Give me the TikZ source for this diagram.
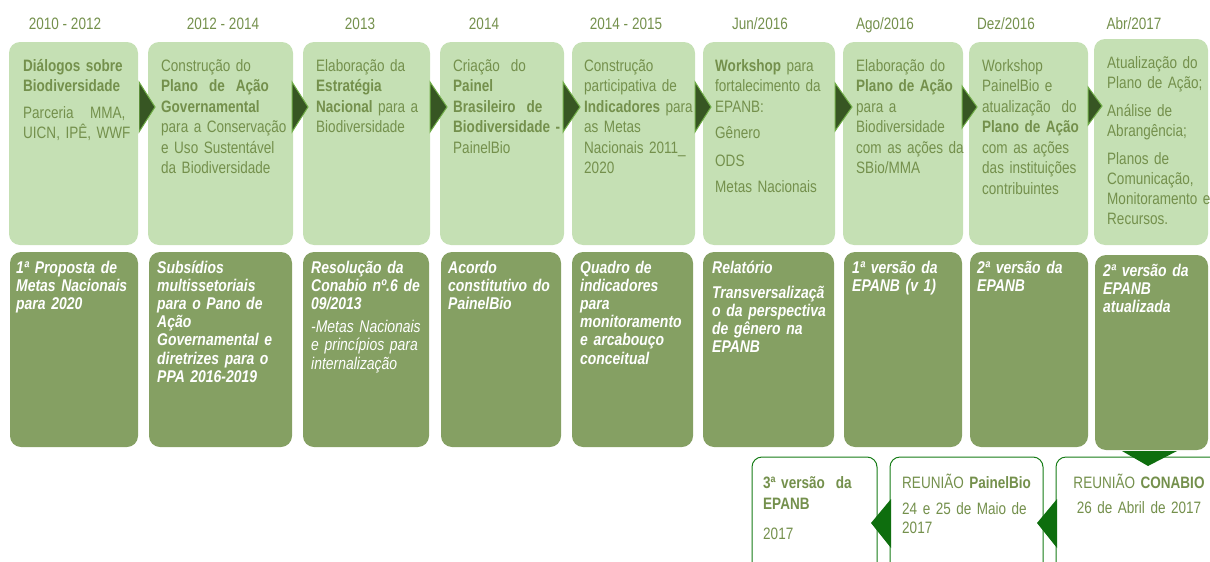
\documentclass[tikz,border=0pt]{standalone}
\usepackage{fontspec}
\setmainfont{Liberation Sans}[FakeStretch=0.82]
\definecolor{topfill}{HTML}{C5E0B4}
\definecolor{darkfill}{HTML}{85A063}
\definecolor{txtgreen}{HTML}{74904C}
\definecolor{arrdark}{HTML}{375623}
\definecolor{arredge}{HTML}{70AD47}
\definecolor{boxline}{HTML}{167C16}
\definecolor{arrbottom}{HTML}{0E6E0E}
\begin{document}
\begin{tikzpicture}[x=1pt,y=-1pt,
  topbox/.style={fill=topfill, rounded corners=11pt, inner sep=0pt, outer sep=0pt, anchor=north west, minimum height=203pt},
  darkbox/.style={fill=darkfill, rounded corners=11pt, inner sep=0pt, outer sep=0pt, anchor=north west, minimum height=195pt},
  outbox/.style={draw=boxline, line width=1pt, fill=white, rounded corners=10pt, inner sep=0pt, outer sep=0pt, anchor=north west, minimum height=115pt},
  yearlbl/.style={anchor=base, inner sep=0pt, text=txtgreen, font=\fontsize{16.5}{20}\selectfont},
  toptxt/.style={anchor=base west, inner sep=0pt, text width=140pt, align=left, text=txtgreen, font=\fontsize{16.5}{20.5}\selectfont},
  darktxt/.style={anchor=base west, inner sep=0pt, text width=140pt, align=left, text=white, font=\fontsize{17}{18.2}\selectfont\bfseries\itshape},
  bottxt/.style={anchor=base west, inner sep=0pt, text width=150pt, align=left, text=txtgreen, font=\fontsize{16.5}{20.5}\selectfont},
  chev/.style={fill=arrdark, draw=arredge, line width=1pt, line join=miter},
  chevb/.style={fill=arrbottom},
]
\useasboundingbox (0,0) rectangle (1210,562);
\clip (0,0) rectangle (1210,562);

% year labels
\node[yearlbl] (y1) at (65,29) {2010 - 2012};
\node[yearlbl] (y2) at (223,29) {2012 - 2014};
\node[yearlbl] (y3) at (360,29) {2013};
\node[yearlbl] (y4) at (484,29) {2014};
\node[yearlbl] (y5) at (626,29) {2014 - 2015};
\node[yearlbl] (y6) at (760,29) {Jun/2016};
\node[yearlbl] (y7) at (885,29) {Ago/2016};
\node[yearlbl] (y8) at (1006,29) {Dez/2016};
\node[yearlbl] (y9) at (1134,29) {Abr/2017};

% top boxes
\node[topbox, minimum width=129pt] (t1) at (9,42) {};
\node[topbox, minimum width=145pt] (t2) at (148,42) {};
\node[topbox, minimum width=127pt] (t3) at (303,42) {};
\node[topbox, minimum width=124pt] (t4) at (440,42) {};
\node[topbox, minimum width=123pt] (t5) at (572,42) {};
\node[topbox, minimum width=132pt] (t6) at (703,42) {};
\node[topbox, minimum width=120pt] (t7) at (843,42) {};
\node[topbox, minimum width=119pt] (t8) at (969,42) {};
\node[topbox, minimum width=114pt, minimum height=206pt] (t9) at (1094,39) {};

% dark boxes
\node[darkbox, minimum width=128pt] (d1) at (10,252) {};
\node[darkbox, minimum width=143pt] (d2) at (149,252) {};
\node[darkbox, minimum width=126pt] (d3) at (303,252) {};
\node[darkbox, minimum width=120pt] (d4) at (441,252) {};
\node[darkbox, minimum width=121pt] (d5) at (572,252) {};
\node[darkbox, minimum width=131pt] (d6) at (703,252) {};
\node[darkbox, minimum width=118pt] (d7) at (844,252) {};
\node[darkbox, minimum width=118pt] (d8) at (970,252) {};
\node[darkbox, minimum width=113pt] (d9) at (1095,255) {};

% bottom outlined boxes
\node[outbox, minimum width=125pt] (b1) at (752,457) {};
\node[outbox, minimum width=153pt] (b2) at (890,457) {};
\node[outbox, minimum width=166pt] (b3) at (1056,457) {};

% top chevrons
\fill[chev] (139,82) -- (155,107) -- (139,132) -- cycle;
\fill[chev] (292,82) -- (308,107) -- (292,132) -- cycle;
\fill[chev] (430,82) -- (447,107) -- (430,132) -- cycle;
\fill[chev] (563,82) -- (580,107) -- (563,132) -- cycle;
\fill[chev] (695,82) -- (711,107) -- (695,132) -- cycle;
\fill[chev] (835,83) -- (852,107) -- (835,131) -- cycle;
\fill[chev] (962,86) -- (977,107) -- (962,128) -- cycle;
\fill[chev] (1088,87) -- (1102,106) -- (1088,125) -- cycle;

% bottom triangles
\fill[chevb] (1122,451) -- (1177,451) -- (1148,466) -- cycle;
\fill[chevb] (891,499) -- (871,523) -- (891,548) -- cycle;
\fill[chevb] (1057,499) -- (1037,523) -- (1057,548) -- cycle;

% top texts
\node[toptxt] (tx1) at (23,71) {\textbf{Diálogos sobre}\\\textbf{Biodiversidade}\\[6pt]Parceria\ \ \ MMA,\\UICN, IPÊ, WWF};
\node[toptxt] (tx2) at (161,71) {Construção do\\\textbf{Plano\ \ de\ \ Ação}\\\textbf{Governamental}\\para a Conservação\\e Uso Sustentável\\da Biodiversidade};
\node[toptxt] (tx3) at (316,71) {Elaboração da\\\textbf{Estratégia}\\\textbf{Nacional} para a\\Biodiversidade};
\node[toptxt] (tx4) at (453,71) {Criação\ \ do\\\textbf{Painel}\\\textbf{Brasileiro\ \ de}\\\textbf{Biodiversidade -}\\PainelBio};
\node[toptxt] (tx5) at (584,71) {Construção\\participativa de\\\textbf{Indicadores} para\\as Metas\\Nacionais 2011\_\\2020};
\node[toptxt] (tx6) at (715,71) {\textbf{Workshop} para\\fortalecimento da\\EPANB:\\[6pt]Gênero\\[7pt]ODS\\[6pt]Metas Nacionais};
\node[toptxt] (tx7) at (856,71) {Elaboração do\\\textbf{Plano de Ação}\\para a\\Biodiversidade\\com as ações da\\SBio/MMA};
\node[toptxt] (tx8) at (982,71) {Workshop\\PainelBio e\\atualização\ \ do\\\textbf{Plano de Ação}\\com as ações\\das instituições\\contribuintes};
\node[toptxt, font=\fontsize{16.5}{20}\selectfont] (tx9) at (1107,68) {Atualização do\\Plano de Ação;\\[8pt]Análise de\\Abrangência;\\[8pt]Planos de\\Comunicação,\\Monitoramento e\\Recursos.};

% dark texts
\node[darktxt] (dx1) at (16,273) {1ª Proposta de\\Metas Nacionais\\para 2020};
\node[darktxt] (dx2) at (157,273) {Subsídios\\multissetoriais\\para o Pano de\\Ação\\Governamental e\\diretrizes para o\\PPA 2016-2019};
\node[darktxt] (dx3) at (311,273) {Resolução da\\Conabio nº.6 de\\09/2013\\[5pt]{\mdseries -Metas Nacionais\\e princípios para\\internalização}};
\node[darktxt] (dx4) at (448,273) {Acordo\\constitutivo do\\PainelBio};
\node[darktxt] (dx5) at (580,273) {Quadro de\\indicadores\\para\\monitoramento\\e arcabouço\\conceitual};
\node[darktxt] (dx6) at (712,273) {Relatório\\[7pt]Transversalizaçã\\o da perspectiva\\de gênero na\\EPANB};
\node[darktxt] (dx7) at (852,273) {1ª versão da\\EPANB (v 1)};
\node[darktxt] (dx8) at (977,273) {2ª versão da\\EPANB};
\node[darktxt] (dx9) at (1103,276) {2ª versão da\\EPANB\\atualizada};

% bottom texts
\node[bottxt, font=\fontsize{16.5}{21.5}\selectfont] (bx1) at (763,488) {\textbf{3ª versão\ \ da}\\\textbf{EPANB}\\[8pt]2017};
\node[bottxt, font=\fontsize{16.5}{19}\selectfont] (bx2) at (902,488) {REUNIÃO \textbf{PainelBio}\\[7pt]24 e 25 de Maio de\\2017};
\node[bottxt, anchor=base, align=center, text width=166pt, font=\fontsize{16.5}{19}\selectfont] (bx3) at (1139,488) {REUNIÃO \textbf{CONABIO}\\[6pt]26 de Abril de 2017};
\end{tikzpicture}
\end{document}
